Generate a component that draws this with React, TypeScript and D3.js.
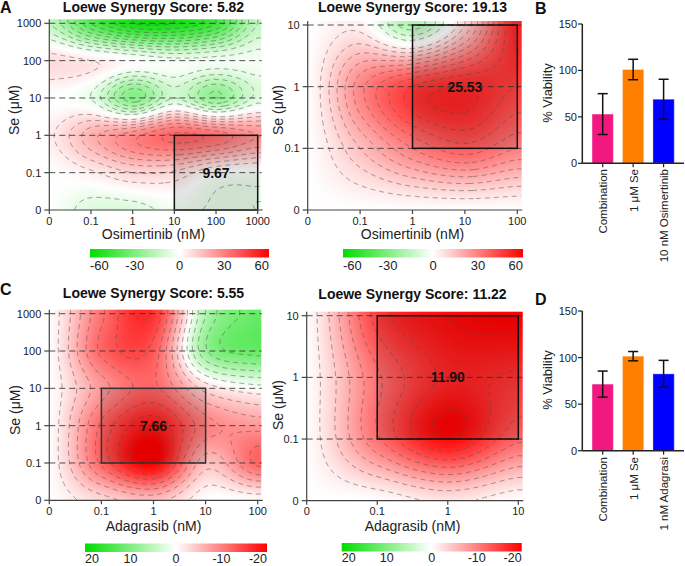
import React, { useMemo } from 'react';
import * as d3 from 'd3';

// ---------- Data ----------
// Panel A (left): Osimertinib x Se, rows = Se doses from bottom (0) to top (1000)
const osiDosesA1 = ['0', '0.1', '1', '10', '100', '1000'];
const seDosesA1 = ['0', '0.1', '1', '10', '100', '1000'];
const synergyA1 = [
  [0, -8, -8, -3, -6, -5],
  [0, 4, 10, 9, 0, -2],
  [4, 18, 28, 36, 33, 25],
  [0, -5, -28, -10, -25, -8],
  [8, 5, 0, -3, -3, -2],
  [-15, -40, -55, -55, -45, -15],
];
// Panel A (right)
const osiDosesA2 = ['0', '0.1', '1', '10', '100'];
const seDosesA2 = ['0', '0.1', '1', '10'];
const synergyA2 = [
  [0, 0, 0, 0, 0],
  [0, 15, 30, 38, 30],
  [0, 28, 45, 50, 45],
  [0, 3, -18, 10, 52],
];
// Panel C (left): Adagrasib x Se
const adaDosesC1 = ['0', '0.1', '1', '10', '100'];
const seDosesC1 = ['0', '0.1', '1', '10', '100', '1000'];
const synergyC1 = [
  [0, -3, -5, 0, 0],
  [0, -12, -20, -5, -12],
  [0, -12, -18, -10, -8],
  [0, -8, -12, -3, 0],
  [0, -12, -13, 8, 12],
  [0, -11, -16, 6, 12],
];
// Panel C (right)
const adaDosesC2 = ['0', '0.1', '1', '10'];
const seDosesC2 = ['0', '0.1', '1', '10'];
const synergyC2 = [
  [0, 0, -2, 0],
  [0, -11, -19, -12],
  [0, -11, -17, -16],
  [0, -15, -19, -20],
];

const titlesTop = ['Loewe Synergy Score: 5.82', 'Loewe Synergy Score: 19.13'];
const titlesBottom = ['Loewe Synergy Score: 5.55', 'Loewe Synergy Score: 11.22'];
const boxScores = ['9.67', '25.53', '7.66', '11.90'];

const colorbarTicksTop = [-60, -30, 0, 30, 60];
const colorbarTicksBottom = [20, 10, 0, -10, -20];

// Bar panels
const barCatsB = ['Combination', '1 μM Se', '10 nM Osimertinib'];
const barValsB = [53, 101, 69];
const barErrsB = [22, 11, 21.5];
const barCatsD = ['Combination', '1 μM Se', '1 nM Adagrasi'];
const barValsD = [71.5, 101.5, 82.5];
const barErrsD = [14, 5, 14.5];
const barColors = ['#F2187F', '#FF8000', '#0000FF'];
const barTicks = [0, 50, 100, 150];

const FONT = '"Liberation Sans", Arial, Helvetica, sans-serif';

// ---------- helpers ----------
function cr(p0: number, p1: number, p2: number, p3: number, t: number) {
  return 0.5 * (2 * p1 + (-p0 + p2) * t + (2 * p0 - 5 * p1 + 4 * p2 - p3) * t * t + (-p0 + 3 * p1 - 3 * p2 + p3) * t * t * t);
}
function sample(data: number[][], u: number, v: number) {
  const ny = data.length, nx = data[0].length;
  const iu = Math.min(Math.floor(u), nx - 2), iv = Math.min(Math.floor(v), ny - 2);
  const tu = u - iu, tv = v - iv;
  const g = (r: number, c: number) => data[Math.max(0, Math.min(ny - 1, r))][Math.max(0, Math.min(nx - 1, c))];
  const rows = [-1, 0, 1, 2].map(k => cr(g(iv + k, iu - 1), g(iv + k, iu), g(iv + k, iu + 1), g(iv + k, iu + 2), tu));
  return cr(rows[0], rows[1], rows[2], rows[3], tv);
}

type HeatProps = {
  id: string;
  xLabels: string[]; yLabels: string[]; data: number[][];
  xr: [number, number]; yr: [number, number];
  domain: number[]; thresholds: number[];
  box: [number, number, number, number]; boxLabel: string; boxStroke: string;
  title: string; titleY: number;
  xTitle: string; xTitleY: number; yTitleX: number; yTitleY: number;
  cb: [number, number, number]; cbTicks: number[]; cbLabelDy: number; cbFont: number;
};

function Heatmap(p: HeatProps) {
  const { xr, yr } = p;
  const nx = p.xLabels.length, ny = p.yLabels.length;
  const x = d3.scaleLinear().domain([0, nx - 1]).range(xr);
  const y = d3.scaleLinear().domain([0, ny - 1]).range(yr);
  const m = 4;
  const hx0 = xr[0], hx1 = xr[1] + m, hy0 = yr[1] - m, hy1 = yr[0];
  const W = Math.round(hx1 - hx0), H = Math.round(hy1 - hy0);
  const color = d3.scaleLinear<string>().domain(p.domain).range(['#00dd00', '#ffffff', '#ff0000']).clamp(true);

  const { url, lines } = useMemo(() => {
    const vals = new Array(W * H);
    for (let j = 0; j < H; j++) {
      for (let i = 0; i < W; i++) {
        const u = Math.max(0, Math.min(nx - 1, x.invert(hx0 + i + 0.5)));
        const v = Math.max(0, Math.min(ny - 1, y.invert(hy0 + j + 0.5)));
        vals[j * W + i] = sample(p.data, u, v);
      }
    }
    const canvas = document.createElement('canvas');
    canvas.width = W; canvas.height = H;
    const ctx = canvas.getContext('2d')!;
    const img = ctx.createImageData(W, H);
    for (let k = 0; k < W * H; k++) {
      const c = d3.rgb(color(vals[k]));
      img.data[k * 4] = c.r; img.data[k * 4 + 1] = c.g; img.data[k * 4 + 2] = c.b; img.data[k * 4 + 3] = 255;
    }
    ctx.putImageData(img, 0, 0);
    const url = canvas.toDataURL();
    const cs = d3.contours().size([W, H]).thresholds(p.thresholds)(vals);
    const lines: [number, number][][] = [];
    const onEdge = (a: number[], b: number[]) =>
      (a[0] <= 1 && b[0] <= 1) || (a[0] >= W - 1 && b[0] >= W - 1) || (a[1] <= 1 && b[1] <= 1) || (a[1] >= H - 1 && b[1] >= H - 1);
    cs.forEach(c => {
      c.coordinates.forEach(poly => poly.forEach(ring => {
        let cur: [number, number][] = [];
        for (let k = 0; k < ring.length - 1; k++) {
          const a = ring[k], b = ring[k + 1];
          if (onEdge(a, b)) {
            if (cur.length > 1) lines.push(cur);
            cur = [];
          } else {
            if (cur.length === 0) cur.push([a[0], a[1]]);
            cur.push([b[0], b[1]]);
          }
        }
        if (cur.length > 1) lines.push(cur);
      }));
    });
    return { url, lines };
  }, []);

  const line = d3.line<[number, number]>().x(d => d[0] + hx0).y(d => d[1] + hy0);
  const gid = 'grad-' + p.id;
  const cbW = p.cb[1] - p.cb[0];
  return (
    <g fontFamily={FONT}>
      <defs>
        <linearGradient id={gid} x1="0" x2="1" y1="0" y2="0">
          <stop offset="0%" stopColor="#00dd00" />
          <stop offset="50%" stopColor="#ffffff" />
          <stop offset="100%" stopColor="#ff0000" />
        </linearGradient>
      </defs>
      <image href={url} x={hx0} y={hy0} width={W} height={H} preserveAspectRatio="none" />
      <g fill="none" stroke="#555" strokeWidth={0.8} strokeOpacity={0.7} strokeDasharray="5,4">
        {lines.map((l, i) => <path key={i} d={line(l) || ''} />)}
      </g>
      {p.yLabels.map((_, i) => i > 0 ? (
        <line key={i} x1={hx0} x2={hx1} y1={y(i)} y2={y(i)} stroke="#333" strokeOpacity={0.85} strokeWidth={1} strokeDasharray="6,4" />
      ) : null)}
      <rect x={x(p.box[0])} y={y(p.box[3])} width={x(p.box[1]) - x(p.box[0])} height={y(p.box[2]) - y(p.box[3])}
        fill="rgba(0,0,0,0.1)" stroke={p.boxStroke} strokeWidth={1.5} />
      <text x={(x(p.box[0]) + x(p.box[1])) / 2} y={(y(p.box[2]) + y(p.box[3])) / 2 + 5} textAnchor="middle"
        fontSize={14} fontWeight="bold" fill="#111">{p.boxLabel}</text>
      {/* axes */}
      <line x1={xr[0]} x2={xr[0]} y1={yr[0]} y2={hy0} stroke="#444" strokeWidth={1.2} />
      <line x1={xr[0]} x2={hx1 + 1} y1={yr[0]} y2={yr[0]} stroke="#444" strokeWidth={1.2} />
      {p.yLabels.map((t, i) => (
        <g key={'y' + i}>
          <line x1={xr[0] - 5} x2={xr[0]} y1={y(i)} y2={y(i)} stroke="#444" strokeWidth={1.2} />
          <text x={xr[0] - 8} y={y(i) + 4} textAnchor="end" fontSize={11} fill="#222">{t}</text>
        </g>
      ))}
      {p.xLabels.map((t, i) => (
        <g key={'x' + i}>
          <line x1={x(i)} x2={x(i)} y1={yr[0]} y2={yr[0] + 4} stroke="#444" strokeWidth={1.2} />
          <text x={x(i)} y={yr[0] + 14.5} textAnchor="middle" fontSize={11} fill="#222">{t}</text>
        </g>
      ))}
      <text x={(xr[0] + xr[1]) / 2} y={p.titleY} textAnchor="middle" fontSize={14} fontWeight="bold" fill="#111">{p.title}</text>
      <text x={(xr[0] + xr[1]) / 2} y={p.xTitleY} textAnchor="middle" fontSize={14} fill="#222">{p.xTitle}</text>
      <text transform={`translate(${p.yTitleX},${p.yTitleY}) rotate(-90)`} textAnchor="middle" fontSize={14} fill="#222">Se (μM)</text>
      {/* colorbar */}
      <rect x={p.cb[0]} y={p.cb[2]} width={cbW} height={8.5} fill={`url(#${gid})`} />
      {p.cbTicks.map((t, i) => (
        <text key={'c' + i} x={p.cb[0] + (i / (p.cbTicks.length - 1)) * cbW} y={p.cb[2] + p.cbLabelDy}
          textAnchor={i === 0 ? 'start' : i === p.cbTicks.length - 1 ? 'end' : 'middle'} fontSize={p.cbFont} fill="#222">{t}</text>
      ))}
    </g>
  );
}

type BarProps = { cats: string[]; vals: number[]; errs: number[]; y0: number; y1: number; letter: string; letterY: number; labelY: number; yTitleY: number };
function Bars(p: BarProps) {
  const y = d3.scaleLinear().domain([0, 150]).range([p.y0, p.y1]);
  const x = d3.scaleBand().domain(p.cats).range([582.3, 684]).paddingInner(0.3).paddingOuter(0.32);
  const bw = x.bandwidth();
  return (
    <g fontFamily={FONT}>
      <text x={535} y={p.letterY} fontSize={16} fontWeight="bold" fill="#111">{p.letter}</text>
      {p.cats.map((c, i) => (
        <g key={c}>
          <rect x={x(c)} y={y(p.vals[i])} width={bw} height={y(0) - y(p.vals[i])} fill={barColors[i]}
            stroke="#fff" strokeOpacity={0.35} strokeWidth={1} />
          <line x1={x(c)! + bw / 2} x2={x(c)! + bw / 2} y1={y(p.vals[i] - p.errs[i])} y2={y(p.vals[i] + p.errs[i])} stroke="#111" strokeWidth={1.5} />
          <line x1={x(c)! + bw / 2 - 5} x2={x(c)! + bw / 2 + 5} y1={y(p.vals[i] - p.errs[i])} y2={y(p.vals[i] - p.errs[i])} stroke="#111" strokeWidth={1.5} />
          <line x1={x(c)! + bw / 2 - 5} x2={x(c)! + bw / 2 + 5} y1={y(p.vals[i] + p.errs[i])} y2={y(p.vals[i] + p.errs[i])} stroke="#111" strokeWidth={1.5} />
          <line x1={x(c)! + bw / 2} x2={x(c)! + bw / 2} y1={y(0)} y2={y(0) + 4} stroke="#222" strokeWidth={1.2} />
          <text transform={`translate(${x(c)! + bw / 2 + 4.5},${p.labelY}) rotate(-90)`} textAnchor="end" fontSize={11.5} fill="#222">{c}</text>
        </g>
      ))}
      <line x1={582.3} x2={582.3} y1={y(0)} y2={y(150)} stroke="#222" strokeWidth={1.5} />
      <line x1={582.3} x2={684} y1={y(0)} y2={y(0)} stroke="#222" strokeWidth={1.5} />
      {barTicks.map(t => (
        <g key={t}>
          <line x1={578} x2={582.3} y1={y(t)} y2={y(t)} stroke="#222" strokeWidth={1.2} />
          <text x={577} y={y(t) + 4} textAnchor="end" fontSize={11} fill="#222">{t}</text>
        </g>
      ))}
      <text transform={`translate(552,${p.yTitleY}) rotate(-90)`} textAnchor="middle" fontSize={13} fill="#222">% Viability</text>
    </g>
  );
}

export default function App() {
  const thrTop = d3.range(-55, 60, 5).filter(v => v !== 0);
  const thrBot = d3.range(-19, 20, 2.5).filter(v => Math.abs(v) > 0.1);
  return (
    <svg width={685} height={566} style={{ position: 'absolute', left: 0, top: 0, background: '#fff' }}>
      <rect width={685} height={566} fill="#fff" />
      <text x={0} y={13} fontFamily={FONT} fontSize={16} fontWeight="bold" fill="#111">A</text>
      <text x={0} y={295} fontFamily={FONT} fontSize={16} fontWeight="bold" fill="#111">C</text>
      <Heatmap id="a1" xLabels={osiDosesA1} yLabels={seDosesA1} data={synergyA1}
        xr={[49.3, 257.7]} yr={[210, 23.3]} domain={[-60, 0, 60]} thresholds={thrTop}
        box={[3, 5, 0, 2]} boxLabel={boxScores[0]} boxStroke="#111"
        title={titlesTop[0]} titleY={12} xTitle="Osimertinib (nM)" xTitleY={239} yTitleX={19} yTitleY={110}
        cb={[90, 269, 249]} cbTicks={colorbarTicksTop} cbLabelDy={21} cbFont={13} />
      <Heatmap id="a2" xLabels={osiDosesA2} yLabels={seDosesA2} data={synergyA2}
        xr={[307.7, 517.3]} yr={[210, 25]} domain={[-60, 0, 60]} thresholds={thrTop}
        box={[2, 4, 1, 3]} boxLabel={boxScores[1]} boxStroke="#111"
        title={titlesTop[1]} titleY={12} xTitle="Osimertinib (nM)" xTitleY={239} yTitleX={283} yTitleY={110}
        cb={[343, 523, 249]} cbTicks={colorbarTicksTop} cbLabelDy={21} cbFont={13} />
      <Heatmap id="c1" xLabels={adaDosesC1} yLabels={seDosesC1} data={synergyC1}
        xr={[49.3, 257.7]} yr={[500.3, 313.7]} domain={[20, 0, -20]} thresholds={thrBot}
        box={[1, 3, 1, 3]} boxLabel={boxScores[2]} boxStroke="#333"
        title={titlesBottom[0]} titleY={298} xTitle="Adagrasib (nM)" xTitleY={531} yTitleX={20} yTitleY={410}
        cb={[85, 267, 543.5]} cbTicks={colorbarTicksBottom} cbLabelDy={19} cbFont={12.5} />
      <Heatmap id="c2" xLabels={adaDosesC2} yLabels={seDosesC2} data={synergyC2}
        xr={[306.7, 518.3]} yr={[500.7, 315.7]} domain={[20, 0, -20]} thresholds={thrBot}
        box={[1, 3, 1, 3]} boxLabel={boxScores[3]} boxStroke="#111"
        title={titlesBottom[1]} titleY={299} xTitle="Adagrasib (nM)" xTitleY={531} yTitleX={283} yTitleY={405}
        cb={[341.7, 521.7, 543]} cbTicks={colorbarTicksBottom} cbLabelDy={19} cbFont={12.5} />
      <Bars cats={barCatsB} vals={barValsB} errs={barErrsB} y0={163.3} y1={24} letter="B" letterY={14} labelY={169} yTitleY={93} />
      <Bars cats={barCatsD} vals={barValsD} errs={barErrsD} y0={450.7} y1={311} letter="D" letterY={305} labelY={457} yTitleY={380} />
    </svg>
  );
}
